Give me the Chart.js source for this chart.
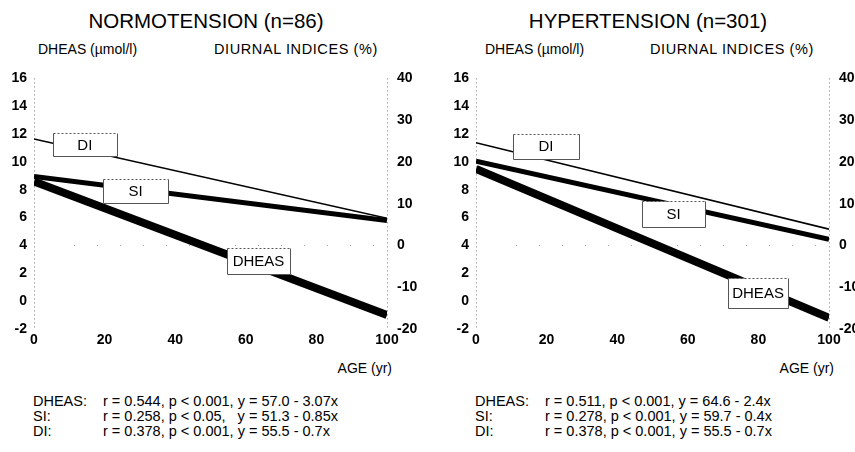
<!DOCTYPE html>
<html>
<head>
<meta charset="utf-8">
<script src="https://cdn.jsdelivr.net/npm/chart.js@4.4.1/dist/chart.umd.min.js"></script>
<style>
  body { margin: 0; width: 855px; height: 452px; overflow: hidden; background: #fff; position: relative;
         font-family: 'Liberation Sans', Arial, sans-serif; color: #000; }
  .panel { position: absolute; top: 0; width: 440px; height: 452px; }
  .title { position: absolute; top: 9px; left: 0; width: 412px; text-align: center; font-size: 20.5px; }
  .axt { position: absolute; top: 41px; font-size: 14px; white-space: nowrap; }
  .wide { font-size: 14.5px; letter-spacing: 0.6px; }
  .wrap { position: absolute; top: 60px; left: 0; width: 440px; height: 300px; }
  .age { position: absolute; top: 360px; left: 300px; width: 92px; text-align: right; font-size: 14px; }
  .stats { position: absolute; top: 394px; left: 33px; font-size: 14.5px; line-height: 15px; }
  .stats div span { display: inline-block; width: 70px; }
</style>
</head>
<body>
<div class="panel" style="left:0">
  <div class="title">NORMOTENSION (n=86)</div>
  <div class="axt" style="left:38px">DHEAS (µmol/l)</div>
  <div class="axt wide" style="left:214px">DIURNAL INDICES (%)</div>
  <div class="wrap"><canvas id="norm"></canvas></div>
  <div class="age">AGE (yr)</div>
  <div class="stats">
    <div><span>DHEAS:</span>r = 0.544, p &lt; 0.001, y = 57.0 - 3.07x</div>
    <div><span>SI:</span>r = 0.258, p &lt; 0.05,&nbsp;&nbsp; y = 51.3 - 0.85x</div>
    <div><span>DI:</span>r = 0.378, p &lt; 0.001, y = 55.5 - 0.7x</div>
  </div>
</div>
<div class="panel" style="left:442px">
  <div class="title">HYPERTENSION (n=301)</div>
  <div class="axt" style="left:43px">DHEAS (µmol/l)</div>
  <div class="axt wide" style="left:208px">DIURNAL INDICES (%)</div>
  <div class="wrap"><canvas id="hyp"></canvas></div>
  <div class="age">AGE (yr)</div>
  <div class="stats">
    <div><span>DHEAS:</span>r = 0.511, p &lt; 0.001, y = 64.6 - 2.4x</div>
    <div><span>SI:</span>r = 0.278, p &lt; 0.001, y = 59.7 - 0.4x</div>
    <div><span>DI:</span>r = 0.378, p &lt; 0.001, y = 55.5 - 0.7x</div>
  </div>
</div>
<script>
// age range of the regression lines (yr)
const ages = [0, 100];

// normotension: DHEAS on left axis (µmol/l), SI / DI on right axis (%)
const normDheas = [8.6, -1.0];
const normSi = [16.5, 6.0];
const normDi = [25.5, 6.5];

// hypertension
const hypDheas = [9.5, -1.2];
const hypSi = [20.2, 1.5];
const hypDi = [24.6, 3.9];

// axis ticks
const ageTicks = [0, 20, 40, 60, 80, 100];
const dheasTicks = [-2, 0, 2, 4, 6, 8, 10, 12, 14, 16];
const indexTicks = [-20, -10, 0, 10, 20, 30, 40];

// line tags, anchored in data units
const normTags = [
  { text: 'DI', age: 14.4, value: 24.2, axis: 'y2', w: 64, h: 23 },
  { text: 'SI', age: 28.8, value: 13.1, axis: 'y2', w: 65, h: 24 },
  { text: 'DHEAS', age: 63.6, value: 2.9, axis: 'y', w: 63, h: 26 },
];
const hypTags = [
  { text: 'DI', age: 19.8, value: 23.8, axis: 'y2', w: 66, h: 25 },
  { text: 'SI', age: 56.0, value: 7.6, axis: 'y2', w: 63, h: 26 },
  { text: 'DHEAS', age: 79.9, value: 0.6, axis: 'y', w: 60, h: 30 },
];

const FONT = "'Liberation Sans', Arial, sans-serif";

function pts(ys) {
  return ages.map((a, i) => ({ x: a, y: ys[i] }));
}

function makeChart(id, dheas, si, di, tags) {
  const framePlugin = {
    id: 'frame',
    beforeDatasetsDraw(chart) {
      const a = chart.chartArea;
      const c = chart.ctx;
      const y0 = chart.scales.y2.getPixelForValue(0);
      c.save();
      c.strokeStyle = '#777';
      c.lineWidth = 1;
      c.setLineDash([1, 3]);
      c.beginPath();
      c.moveTo(a.left + 0.5, a.top);
      c.lineTo(a.left + 0.5, a.bottom);
      c.moveTo(a.right + 0.5, a.top);
      c.lineTo(a.right + 0.5, a.bottom);
      c.stroke();
      c.strokeStyle = '#aaa';
      c.setLineDash([1, 22]);
      c.beginPath();
      c.moveTo(a.left + 40, Math.round(y0) + 0.5);
      c.lineTo(a.right - 10, Math.round(y0) + 0.5);
      c.stroke();
      c.restore();
    },
    afterDatasetsDraw(chart) {
      const c = chart.ctx;
      const xs = chart.scales.x;
      c.save();
      c.font = '15px ' + FONT;
      c.textAlign = 'center';
      c.textBaseline = 'middle';
      for (const t of tags) {
        const cx = xs.getPixelForValue(t.age);
        const cy = chart.scales[t.axis].getPixelForValue(t.value);
        const x = Math.round(cx - t.w / 2) + 0.5;
        const y = Math.round(cy - t.h / 2) + 0.5;
        c.fillStyle = '#fff';
        c.fillRect(x, y, t.w, t.h);
        c.lineWidth = 1;
        c.strokeStyle = '#555';
        c.setLineDash([]);
        c.beginPath();
        c.moveTo(x, y);
        c.lineTo(x, y + t.h);
        c.lineTo(x + t.w, y + t.h);
        c.lineTo(x + t.w, y);
        c.stroke();
        c.setLineDash([2, 2]);
        c.beginPath();
        c.moveTo(x, y);
        c.lineTo(x + t.w, y);
        c.stroke();
        c.fillStyle = '#000';
        c.fillText(t.text, cx, cy + 1);
      }
      c.restore();
    },
  };

  const line = (label, data, axis, width) => ({
    label, data: pts(data), yAxisID: axis,
    borderColor: '#000', borderWidth: width, borderCapStyle: 'butt',
    pointRadius: 0, tension: 0, fill: false,
  });

  return new Chart(document.getElementById(id), {
    type: 'line',
    data: {
      datasets: [
        line('DI', di, 'y2', 1.6),
        line('SI', si, 'y2', 5),
        line('DHEAS', dheas, 'y', 8),
      ],
    },
    options: {
      responsive: true,
      maintainAspectRatio: false,
      animation: false,
      events: [],
      layout: { padding: { top: 15, left: 0, right: 0, bottom: 0 } },
      plugins: { legend: { display: false }, tooltip: { enabled: false } },
      scales: {
        x: {
          type: 'linear', min: 0, max: 100,
          afterBuildTicks: (s) => { s.ticks = ageTicks.map((v) => ({ value: v })); },
          afterFit: (s) => { s.height = 31; },
          grid: { display: false, drawTicks: false },
          border: { display: false },
          ticks: { color: '#000', padding: 3, maxRotation: 0, font: { family: FONT, size: 14, weight: 'bold' } },
        },
        y: {
          position: 'left', min: -2, max: 16,
          afterBuildTicks: (s) => { s.ticks = dheasTicks.map((v) => ({ value: v })); },
          afterFit: (s) => { s.width = 34; },
          grid: { display: false, drawTicks: false },
          border: { display: false },
          ticks: { color: '#000', padding: 7, font: { family: FONT, size: 14, weight: 'bold' } },
        },
        y2: {
          position: 'right', min: -20, max: 40,
          afterBuildTicks: (s) => { s.ticks = indexTicks.map((v) => ({ value: v })); },
          afterFit: (s) => { s.width = 53; },
          grid: { display: false, drawTicks: false },
          border: { display: false },
          ticks: { color: '#000', padding: 10, font: { family: FONT, size: 14, weight: 'bold' } },
        },
      },
    },
    plugins: [framePlugin],
  });
}

makeChart('norm', normDheas, normSi, normDi, normTags);
makeChart('hyp', hypDheas, hypSi, hypDi, hypTags);
</script>
</body>
</html>
